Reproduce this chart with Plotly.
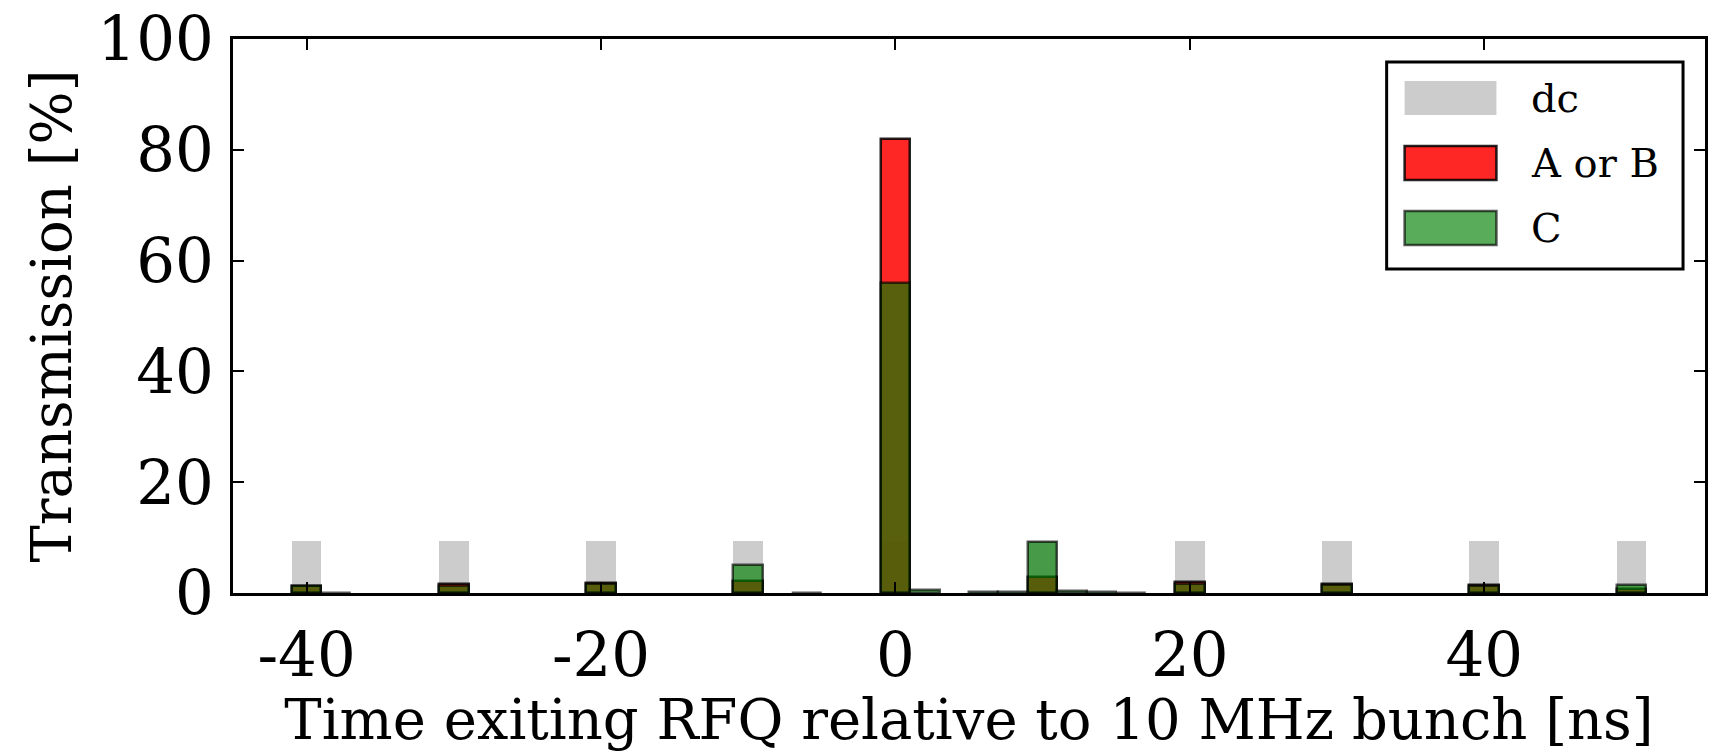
import plotly.graph_objects as go

# Bin centres [ns] (2 ns wide bins) and transmission per bin [%]
dc_time = [-40, -30, -20, -10, 0, 10, 20, 30, 40, 50]
dc_trans = [9.4, 9.4, 9.4, 9.4, 9.4, 9.4, 9.4, 9.4, 9.4, 9.4]

ab_time = [-40, -30, -20, -10, 0, 10, 20, 30, 40, 50]
ab_trans = [1.25, 1.55, 1.8, 2.1, 82.0, 2.9, 1.9, 1.7, 1.4, 0.8]

c_time = [-40, -38, -30, -20, -10, -6, 0, 2, 6, 8, 10, 12, 14, 16, 20, 30, 40, 50]
c_trans = [1.2, 0.05, 1.35, 1.55, 5.1, 0.05, 56.0, 0.6, 0.1, 0.1, 9.2, 0.4, 0.1, 0.05,
           1.65, 1.5, 1.35, 1.5]

series_names = ["dc", "A or B", "C"]

x_tick_vals = [-40, -20, 0, 20, 40]
x_tick_text = ["-40", "-20", "0", "20", "40"]
y_tick_vals = [0, 20, 40, 60, 80, 100]

FONT = "DejaVu Serif"
GRAY = "#cccccc"
RED_FILL = "rgba(255,0,0,0.85)"
RED_EDGE = "rgba(0,0,0,0.85)"
GREEN_FILL = "rgba(0,128,0,0.65)"
GREEN_EDGE = "rgba(0,0,0,0.65)"
BIN_W = 2.0

fig = go.Figure()
fig.add_trace(go.Bar(x=dc_time, y=dc_trans, width=BIN_W, name=series_names[0],
                     marker=dict(color=GRAY, line=dict(width=0))))
fig.add_trace(go.Bar(x=ab_time, y=ab_trans, width=BIN_W, name=series_names[1],
                     marker=dict(color=RED_FILL, line=dict(color=RED_EDGE, width=2.5))))
fig.add_trace(go.Bar(x=c_time, y=c_trans, width=BIN_W, name=series_names[2],
                     marker=dict(color=GREEN_FILL, line=dict(color=GREEN_EDGE, width=2.5))))

axis_common = dict(
    showline=True, linecolor="black", linewidth=3, mirror="allticks",
    ticks="inside", ticklen=11, tickwidth=1.5, tickcolor="black",
    showgrid=False, zeroline=False,
    tickfont=dict(family=FONT, size=61, color="black"),
)

fig.update_layout(
    width=1711, height=752,
    margin=dict(l=233, r=3, t=39, b=159),
    paper_bgcolor="white", plot_bgcolor="white",
    barmode="overlay", bargap=0,
    showlegend=False,
    xaxis=dict(range=[-45, 55], tickmode="array", tickvals=x_tick_vals,
               ticktext=x_tick_text, ticklabelstandoff=7,
               title=dict(text="Time exiting RFQ relative to 10 MHz bunch [ns]",
                          font=dict(family=FONT, size=56, color="black"), standoff=4),
               **axis_common),
    yaxis=dict(range=[0, 100], tickmode="array", tickvals=y_tick_vals,
               ticklabelstandoff=4,
               title=dict(text="Transmission [%]",
                          font=dict(family=FONT, size=56, color="black"), standoff=8),
               **axis_common),
)

# Legend box drawn in paper coordinates
PL, PT, PW, PH = 233, 39, 1711 - 233 - 3, 752 - 39 - 159


def px_x(px):
    return (px - PL) / PW


def px_y(py):
    return 1 - (py - PT) / PH


fig.add_shape(type="rect", xref="paper", yref="paper",
              x0=px_x(1389), x1=px_x(1686), y0=px_y(269), y1=px_y(62),
              line=dict(color="black", width=3), fillcolor="white", layer="above")

swatches = [(GRAY, None), (RED_FILL, RED_EDGE), (GREEN_FILL, GREEN_EDGE)]
row_y = [98, 163, 228]
for (fill, edge), cy, label in zip(swatches, row_y, series_names):
    fig.add_shape(type="rect", xref="paper", yref="paper",
                  x0=px_x(1407), x1=px_x(1499), y0=px_y(cy + 17), y1=px_y(cy - 17),
                  fillcolor=fill,
                  line=dict(color=edge if edge else fill, width=2.5 if edge else 0),
                  layer="above")
    fig.add_annotation(xref="paper", yref="paper", x=px_x(1532), y=px_y(cy),
                       text=label, showarrow=False, xanchor="left", yanchor="middle",
                       font=dict(family=FONT, size=40, color="black"))

fig.write_html("out.html")
